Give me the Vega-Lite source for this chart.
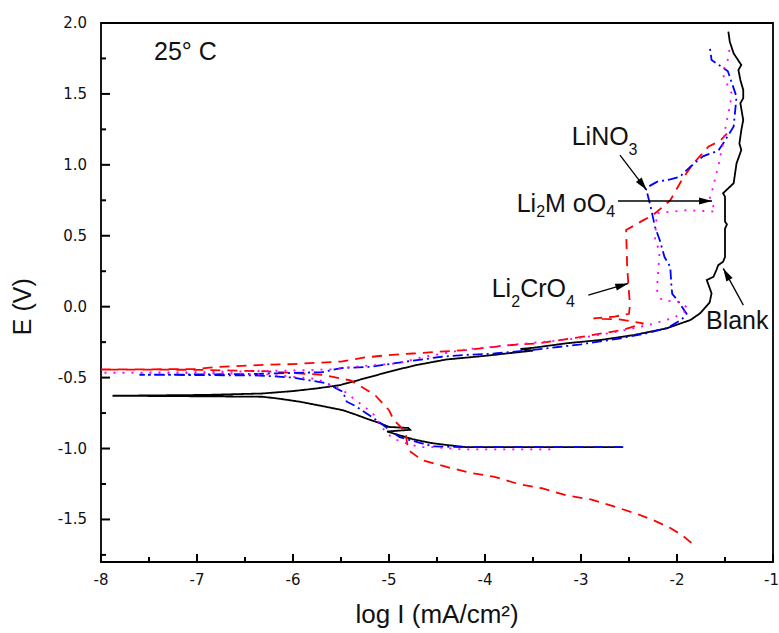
{
  "$schema": "https://vega.github.io/schema/vega-lite/v6.json",
  "width": 672,
  "height": 539,
  "autosize": "none",
  "padding": {"left": 101, "top": 23, "right": 6, "bottom": 71},
  "background": "white",
  "config": {
    "font": "Liberation Sans",
    "view": {"stroke": "black", "strokeWidth": 1.8}
  },
  "datasets": {
    "curves": [
      {"s":"Blank","i":1,"x":-2.57,"y":-0.99},{"s":"Blank","i":2,"x":-3.5,"y":-0.99},{"s":"Blank","i":3,"x":-4.2,"y":-0.99},{"s":"Blank","i":4,"x":-4.4,"y":-0.975},{"s":"Blank","i":5,"x":-4.57,"y":-0.96},{"s":"Blank","i":6,"x":-4.75,"y":-0.935},{"s":"Blank","i":7,"x":-4.9,"y":-0.905},{"s":"Blank","i":8,"x":-5.02,"y":-0.88},{"s":"Blank","i":9,"x":-4.78,"y":-0.868},{"s":"Blank","i":10,"x":-4.8,"y":-0.855},{"s":"Blank","i":11,"x":-5.0,"y":-0.848},{"s":"Blank","i":12,"x":-5.1,"y":-0.82},{"s":"Blank","i":13,"x":-5.23,"y":-0.79},{"s":"Blank","i":14,"x":-5.35,"y":-0.76},{"s":"Blank","i":15,"x":-5.48,"y":-0.73},{"s":"Blank","i":16,"x":-5.7,"y":-0.7},{"s":"Blank","i":17,"x":-5.93,"y":-0.67},{"s":"Blank","i":18,"x":-6.15,"y":-0.648},{"s":"Blank","i":19,"x":-6.32,"y":-0.635},{"s":"Blank","i":20,"x":-6.9,"y":-0.632},{"s":"Blank","i":21,"x":-7.88,"y":-0.628},{"s":"Blank","i":22,"x":-6.9,"y":-0.622},{"s":"Blank","i":23,"x":-6.32,"y":-0.612},{"s":"Blank","i":24,"x":-6.0,"y":-0.595},{"s":"Blank","i":25,"x":-5.75,"y":-0.576},{"s":"Blank","i":26,"x":-5.51,"y":-0.553},{"s":"Blank","i":27,"x":-5.06,"y":-0.47},{"s":"Blank","i":28,"x":-4.89,"y":-0.44},{"s":"Blank","i":29,"x":-4.71,"y":-0.411},{"s":"Blank","i":30,"x":-4.4,"y":-0.372},{"s":"Blank","i":31,"x":-4.02,"y":-0.348},{"s":"Blank","i":32,"x":-3.6,"y":-0.317},{"s":"Blank","i":33,"x":-3.5,"y":-0.31},{"s":"Blank","i":34,"x":-3.63,"y":-0.298},{"s":"Blank","i":35,"x":-3.5,"y":-0.29},{"s":"Blank","i":36,"x":-3.15,"y":-0.258},{"s":"Blank","i":37,"x":-2.8,"y":-0.235},{"s":"Blank","i":38,"x":-2.45,"y":-0.2},{"s":"Blank","i":39,"x":-2.11,"y":-0.153},{"s":"Blank","i":40,"x":-1.86,"y":-0.094},{"s":"Blank","i":41,"x":-1.76,"y":-0.047},{"s":"Blank","i":42,"x":-1.66,"y":0.03},{"s":"Blank","i":43,"x":-1.64,"y":0.094},{"s":"Blank","i":44,"x":-1.69,"y":0.188},{"s":"Blank","i":45,"x":-1.62,"y":0.211},{"s":"Blank","i":46,"x":-1.59,"y":0.258},{"s":"Blank","i":47,"x":-1.57,"y":0.293},{"s":"Blank","i":48,"x":-1.52,"y":0.317},{"s":"Blank","i":49,"x":-1.5,"y":0.35},{"s":"Blank","i":50,"x":-1.5,"y":0.55},{"s":"Blank","i":51,"x":-1.48,"y":0.58},{"s":"Blank","i":52,"x":-1.5,"y":0.6},{"s":"Blank","i":53,"x":-1.5,"y":0.775},{"s":"Blank","i":54,"x":-1.52,"y":0.8},{"s":"Blank","i":55,"x":-1.41,"y":0.87},{"s":"Blank","i":56,"x":-1.4,"y":0.916},{"s":"Blank","i":57,"x":-1.38,"y":1.01},{"s":"Blank","i":58,"x":-1.33,"y":1.105},{"s":"Blank","i":59,"x":-1.35,"y":1.15},{"s":"Blank","i":60,"x":-1.33,"y":1.245},{"s":"Blank","i":61,"x":-1.31,"y":1.316},{"s":"Blank","i":62,"x":-1.34,"y":1.434},{"s":"Blank","i":63,"x":-1.31,"y":1.47},{"s":"Blank","i":64,"x":-1.31,"y":1.528},{"s":"Blank","i":65,"x":-1.34,"y":1.598},{"s":"Blank","i":66,"x":-1.36,"y":1.669},{"s":"Blank","i":67,"x":-1.33,"y":1.704},{"s":"Blank","i":68,"x":-1.41,"y":1.786},{"s":"Blank","i":69,"x":-1.45,"y":1.868},{"s":"Blank","i":70,"x":-1.465,"y":1.939},
      {"s":"Li2CrO4","i":1,"x":-1.85,"y":-1.665},{"s":"Li2CrO4","i":2,"x":-1.95,"y":-1.61},{"s":"Li2CrO4","i":3,"x":-2.07,"y":-1.56},{"s":"Li2CrO4","i":4,"x":-2.23,"y":-1.51},{"s":"Li2CrO4","i":5,"x":-2.42,"y":-1.46},{"s":"Li2CrO4","i":6,"x":-2.65,"y":-1.41},{"s":"Li2CrO4","i":7,"x":-2.89,"y":-1.36},{"s":"Li2CrO4","i":8,"x":-3.15,"y":-1.33},{"s":"Li2CrO4","i":9,"x":-3.41,"y":-1.28},{"s":"Li2CrO4","i":10,"x":-3.65,"y":-1.25},{"s":"Li2CrO4","i":11,"x":-3.9,"y":-1.2},{"s":"Li2CrO4","i":12,"x":-4.16,"y":-1.17},{"s":"Li2CrO4","i":13,"x":-4.4,"y":-1.13},{"s":"Li2CrO4","i":14,"x":-4.66,"y":-1.08},{"s":"Li2CrO4","i":15,"x":-4.8,"y":-1.01},{"s":"Li2CrO4","i":16,"x":-4.83,"y":-0.88},{"s":"Li2CrO4","i":17,"x":-4.95,"y":-0.8},{"s":"Li2CrO4","i":18,"x":-5.0,"y":-0.73},{"s":"Li2CrO4","i":19,"x":-5.15,"y":-0.62},{"s":"Li2CrO4","i":20,"x":-5.4,"y":-0.52},{"s":"Li2CrO4","i":21,"x":-5.7,"y":-0.48},{"s":"Li2CrO4","i":22,"x":-6.3,"y":-0.455},{"s":"Li2CrO4","i":23,"x":-7.0,"y":-0.445},{"s":"Li2CrO4","i":24,"x":-8.0,"y":-0.443},{"s":"Li2CrO4","i":25,"x":-7.0,"y":-0.44},{"s":"Li2CrO4","i":26,"x":-6.8,"y":-0.425},{"s":"Li2CrO4","i":27,"x":-6.3,"y":-0.41},{"s":"Li2CrO4","i":28,"x":-6.0,"y":-0.405},{"s":"Li2CrO4","i":29,"x":-5.77,"y":-0.396},{"s":"Li2CrO4","i":30,"x":-5.5,"y":-0.387},{"s":"Li2CrO4","i":31,"x":-5.25,"y":-0.358},{"s":"Li2CrO4","i":32,"x":-5.0,"y":-0.341},{"s":"Li2CrO4","i":33,"x":-4.75,"y":-0.33},{"s":"Li2CrO4","i":34,"x":-4.5,"y":-0.318},{"s":"Li2CrO4","i":35,"x":-4.2,"y":-0.306},{"s":"Li2CrO4","i":36,"x":-3.95,"y":-0.287},{"s":"Li2CrO4","i":37,"x":-3.72,"y":-0.27},{"s":"Li2CrO4","i":38,"x":-3.45,"y":-0.259},{"s":"Li2CrO4","i":39,"x":-3.03,"y":-0.217},{"s":"Li2CrO4","i":40,"x":-2.8,"y":-0.19},{"s":"Li2CrO4","i":41,"x":-2.57,"y":-0.165},{"s":"Li2CrO4","i":42,"x":-2.35,"y":-0.118},{"s":"Li2CrO4","i":43,"x":-2.6,"y":-0.09},{"s":"Li2CrO4","i":44,"x":-2.87,"y":-0.083},{"s":"Li2CrO4","i":45,"x":-2.65,"y":-0.07},{"s":"Li2CrO4","i":46,"x":-2.5,"y":-0.05},{"s":"Li2CrO4","i":47,"x":-2.49,"y":0.01},{"s":"Li2CrO4","i":48,"x":-2.51,"y":0.19},{"s":"Li2CrO4","i":49,"x":-2.52,"y":0.3},{"s":"Li2CrO4","i":50,"x":-2.53,"y":0.54},{"s":"Li2CrO4","i":51,"x":-2.35,"y":0.61},{"s":"Li2CrO4","i":52,"x":-2.25,"y":0.646},{"s":"Li2CrO4","i":53,"x":-2.07,"y":0.75},{"s":"Li2CrO4","i":54,"x":-1.95,"y":0.893},{"s":"Li2CrO4","i":55,"x":-1.83,"y":1.01},{"s":"Li2CrO4","i":56,"x":-1.67,"y":1.13},{"s":"Li2CrO4","i":57,"x":-1.55,"y":1.17},{"s":"Li2CrO4","i":58,"x":-1.48,"y":1.22},
      {"s":"LiNO3","i":1,"x":-2.56,"y":-0.99},{"s":"LiNO3","i":2,"x":-3.5,"y":-0.99},{"s":"LiNO3","i":3,"x":-4.2,"y":-0.99},{"s":"LiNO3","i":4,"x":-4.54,"y":-0.985},{"s":"LiNO3","i":5,"x":-4.89,"y":-0.92},{"s":"LiNO3","i":6,"x":-4.99,"y":-0.87},{"s":"LiNO3","i":7,"x":-5.13,"y":-0.8},{"s":"LiNO3","i":8,"x":-5.35,"y":-0.7},{"s":"LiNO3","i":9,"x":-5.44,"y":-0.67},{"s":"LiNO3","i":10,"x":-5.48,"y":-0.6},{"s":"LiNO3","i":11,"x":-5.65,"y":-0.54},{"s":"LiNO3","i":12,"x":-6.0,"y":-0.5},{"s":"LiNO3","i":13,"x":-6.35,"y":-0.485},{"s":"LiNO3","i":14,"x":-7.0,"y":-0.482},{"s":"LiNO3","i":15,"x":-7.6,"y":-0.48},{"s":"LiNO3","i":16,"x":-7.0,"y":-0.478},{"s":"LiNO3","i":17,"x":-6.5,"y":-0.475},{"s":"LiNO3","i":18,"x":-6.0,"y":-0.467},{"s":"LiNO3","i":19,"x":-5.7,"y":-0.462},{"s":"LiNO3","i":20,"x":-5.5,"y":-0.433},{"s":"LiNO3","i":21,"x":-5.2,"y":-0.424},{"s":"LiNO3","i":22,"x":-4.85,"y":-0.39},{"s":"LiNO3","i":23,"x":-4.45,"y":-0.353},{"s":"LiNO3","i":24,"x":-4.2,"y":-0.34},{"s":"LiNO3","i":25,"x":-3.9,"y":-0.33},{"s":"LiNO3","i":26,"x":-3.5,"y":-0.305},{"s":"LiNO3","i":27,"x":-3.0,"y":-0.265},{"s":"LiNO3","i":28,"x":-2.6,"y":-0.225},{"s":"LiNO3","i":29,"x":-2.3,"y":-0.185},{"s":"LiNO3","i":30,"x":-2.1,"y":-0.15},{"s":"LiNO3","i":31,"x":-1.95,"y":-0.09},{"s":"LiNO3","i":32,"x":-1.9,"y":-0.05},{"s":"LiNO3","i":33,"x":-2.0,"y":0.05},{"s":"LiNO3","i":34,"x":-2.05,"y":0.09},{"s":"LiNO3","i":35,"x":-2.06,"y":0.164},{"s":"LiNO3","i":36,"x":-2.07,"y":0.28},{"s":"LiNO3","i":37,"x":-2.13,"y":0.35},{"s":"LiNO3","i":38,"x":-2.18,"y":0.47},{"s":"LiNO3","i":39,"x":-2.23,"y":0.564},{"s":"LiNO3","i":40,"x":-2.26,"y":0.66},{"s":"LiNO3","i":41,"x":-2.28,"y":0.72},{"s":"LiNO3","i":42,"x":-2.31,"y":0.8},{"s":"LiNO3","i":43,"x":-2.33,"y":0.834},{"s":"LiNO3","i":44,"x":-2.21,"y":0.88},{"s":"LiNO3","i":45,"x":-2.07,"y":0.898},{"s":"LiNO3","i":46,"x":-1.97,"y":0.916},{"s":"LiNO3","i":47,"x":-1.86,"y":0.987},{"s":"LiNO3","i":48,"x":-1.73,"y":1.06},{"s":"LiNO3","i":49,"x":-1.57,"y":1.1},{"s":"LiNO3","i":50,"x":-1.52,"y":1.15},{"s":"LiNO3","i":51,"x":-1.41,"y":1.27},{"s":"LiNO3","i":52,"x":-1.38,"y":1.48},{"s":"LiNO3","i":53,"x":-1.47,"y":1.66},{"s":"LiNO3","i":54,"x":-1.64,"y":1.74},{"s":"LiNO3","i":55,"x":-1.66,"y":1.84},
      {"s":"Li2MoO4","i":1,"x":-3.32,"y":-1.006},{"s":"Li2MoO4","i":2,"x":-4.23,"y":-1.006},{"s":"Li2MoO4","i":3,"x":-4.54,"y":-0.99},{"s":"Li2MoO4","i":4,"x":-4.68,"y":-0.99},{"s":"Li2MoO4","i":5,"x":-4.83,"y":-0.96},{"s":"Li2MoO4","i":6,"x":-4.96,"y":-0.93},{"s":"Li2MoO4","i":7,"x":-5.05,"y":-0.87},{"s":"Li2MoO4","i":8,"x":-5.17,"y":-0.75},{"s":"Li2MoO4","i":9,"x":-5.48,"y":-0.59},{"s":"Li2MoO4","i":10,"x":-5.75,"y":-0.51},{"s":"Li2MoO4","i":11,"x":-6.3,"y":-0.475},{"s":"Li2MoO4","i":12,"x":-7.0,"y":-0.468},{"s":"Li2MoO4","i":13,"x":-8.0,"y":-0.466},{"s":"Li2MoO4","i":14,"x":-7.0,"y":-0.462},{"s":"Li2MoO4","i":15,"x":-6.5,"y":-0.455},{"s":"Li2MoO4","i":16,"x":-6.0,"y":-0.45},{"s":"Li2MoO4","i":17,"x":-5.54,"y":-0.44},{"s":"Li2MoO4","i":18,"x":-5.4,"y":-0.425},{"s":"Li2MoO4","i":19,"x":-4.92,"y":-0.4},{"s":"Li2MoO4","i":20,"x":-4.63,"y":-0.353},{"s":"Li2MoO4","i":21,"x":-4.19,"y":-0.3},{"s":"Li2MoO4","i":22,"x":-3.57,"y":-0.259},{"s":"Li2MoO4","i":23,"x":-3.19,"y":-0.236},{"s":"Li2MoO4","i":24,"x":-2.98,"y":-0.217},{"s":"Li2MoO4","i":25,"x":-2.63,"y":-0.177},{"s":"Li2MoO4","i":26,"x":-2.3,"y":-0.13},{"s":"Li2MoO4","i":27,"x":-2.04,"y":-0.08},{"s":"Li2MoO4","i":28,"x":-1.88,"y":-0.02},{"s":"Li2MoO4","i":29,"x":-1.95,"y":0.03},{"s":"Li2MoO4","i":30,"x":-2.16,"y":0.047},{"s":"Li2MoO4","i":31,"x":-2.21,"y":0.117},{"s":"Li2MoO4","i":32,"x":-2.18,"y":0.4},{"s":"Li2MoO4","i":33,"x":-2.23,"y":0.458},{"s":"Li2MoO4","i":34,"x":-2.21,"y":0.66},{"s":"Li2MoO4","i":35,"x":-1.9,"y":0.68},{"s":"Li2MoO4","i":36,"x":-1.6,"y":0.67},{"s":"Li2MoO4","i":37,"x":-1.66,"y":0.775},{"s":"Li2MoO4","i":38,"x":-1.62,"y":0.846},{"s":"Li2MoO4","i":39,"x":-1.6,"y":0.916},{"s":"Li2MoO4","i":40,"x":-1.57,"y":0.987},{"s":"Li2MoO4","i":41,"x":-1.55,"y":1.057},{"s":"Li2MoO4","i":42,"x":-1.52,"y":1.15},{"s":"Li2MoO4","i":43,"x":-1.5,"y":1.245},{"s":"Li2MoO4","i":44,"x":-1.48,"y":1.316},{"s":"Li2MoO4","i":45,"x":-1.45,"y":1.41},{"s":"Li2MoO4","i":46,"x":-1.43,"y":1.504},{"s":"Li2MoO4","i":47,"x":-1.5,"y":1.598},{"s":"Li2MoO4","i":48,"x":-1.53,"y":1.657},{"s":"Li2MoO4","i":49,"x":-1.48,"y":1.716},{"s":"Li2MoO4","i":50,"x":-1.465,"y":1.76},{"s":"Li2MoO4","i":51,"x":-1.45,"y":1.83}
    ],
    "labels": [
      {"k":"main","t":"25° C","x":-7.448,"y":1.739},
      {"k":"main","t":"LiNO","x":-3.097,"y":1.14},
      {"k":"main","t":"Li","x":-3.67,"y":0.67},
      {"k":"main","t":"M oO","x":-3.374,"y":0.67},
      {"k":"main","t":"Li","x":-3.93,"y":0.07},
      {"k":"main","t":"CrO","x":-3.634,"y":0.07},
      {"k":"main","t":"Blank","x":-1.698,"y":-0.157},
      {"k":"sub","t":"3","x":-2.504,"y":1.069},
      {"k":"sub","t":"2","x":-3.467,"y":0.632},
      {"k":"sub","t":"4","x":-2.737,"y":0.632},
      {"k":"sub","t":"2","x":-3.727,"y":0.001},
      {"k":"sub","t":"4","x":-3.157,"y":0.001}
    ],
    "titles": [
      {"k":"x","t":"log I (mA/cm²)","x":-4.5,"y":-2.23},
      {"k":"y","t":"E (V)","x":-8.73,"y":0.0}
    ],
    "arrows": [
      {"a":"LiNO3","x":-2.594,"y":1.069,"x2":-2.316,"y2":0.822},
      {"a":"Li2MoO4","x":-2.615,"y":0.745,"x2":-1.635,"y2":0.745},
      {"a":"Li2CrO4","x":-2.924,"y":0.082,"x2":-2.507,"y2":0.164},
      {"a":"Blank","x":-1.309,"y":0.011,"x2":-1.518,"y2":0.27}
    ],
    "ticklabels": [
      {"ax":"x","v":-8,"lab":"-8"},{"ax":"x","v":-7,"lab":"-7"},{"ax":"x","v":-6,"lab":"-6"},{"ax":"x","v":-5,"lab":"-5"},{"ax":"x","v":-4,"lab":"-4"},{"ax":"x","v":-3,"lab":"-3"},{"ax":"x","v":-2,"lab":"-2"},{"ax":"x","v":-1,"lab":"-1"},
      {"ax":"y","v":-1.5,"lab":"-1.5"},{"ax":"y","v":-1.0,"lab":"-1.0"},{"ax":"y","v":-0.5,"lab":"-0.5"},{"ax":"y","v":0.0,"lab":"0.0"},{"ax":"y","v":0.5,"lab":"0.5"},{"ax":"y","v":1.0,"lab":"1.0"},{"ax":"y","v":1.5,"lab":"1.5"},{"ax":"y","v":2.0,"lab":"2.0"}
    ],
    "ticks": [
      {"ax":"x","m":"major","v":-8},{"ax":"x","m":"major","v":-7},{"ax":"x","m":"major","v":-6},{"ax":"x","m":"major","v":-5},{"ax":"x","m":"major","v":-4},{"ax":"x","m":"major","v":-3},{"ax":"x","m":"major","v":-2},{"ax":"x","m":"major","v":-1},
      {"ax":"x","m":"minor","v":-7.5},{"ax":"x","m":"minor","v":-6.5},{"ax":"x","m":"minor","v":-5.5},{"ax":"x","m":"minor","v":-4.5},{"ax":"x","m":"minor","v":-3.5},{"ax":"x","m":"minor","v":-2.5},{"ax":"x","m":"minor","v":-1.5},
      {"ax":"y","m":"major","v":-1.5},{"ax":"y","m":"major","v":-1.0},{"ax":"y","m":"major","v":-0.5},{"ax":"y","m":"major","v":0.0},{"ax":"y","m":"major","v":0.5},{"ax":"y","m":"major","v":1.0},{"ax":"y","m":"major","v":1.5},{"ax":"y","m":"major","v":2.0},
      {"ax":"y","m":"minor","v":-1.75},{"ax":"y","m":"minor","v":-1.25},{"ax":"y","m":"minor","v":-0.75},{"ax":"y","m":"minor","v":-0.25},{"ax":"y","m":"minor","v":0.25},{"ax":"y","m":"minor","v":0.75},{"ax":"y","m":"minor","v":1.25},{"ax":"y","m":"minor","v":1.75}
    ]
  },
  "layer": [
    {
      "data": {"name": "curves"},
      "mark": {"type": "line", "strokeWidth": 1.8, "strokeCap": "butt", "strokeJoin": "miter"},
      "encoding": {
        "x": {"field": "x", "type": "quantitative", "axis": null,
          "scale": {"domain": [-8, -1], "nice": false, "zero": false}},
        "y": {"field": "y", "type": "quantitative", "axis": null,
          "scale": {"domain": [-1.8, 2.0], "nice": false, "zero": false}},
        "color": {"field": "s", "type": "nominal", "legend": null,
          "scale": {"domain": ["Blank", "Li2CrO4", "LiNO3", "Li2MoO4"], "range": ["#000000", "#ff0000", "#0000ff", "#ff00ff"]}},
        "strokeDash": {"field": "s", "type": "nominal", "legend": null,
          "scale": {"domain": ["Blank", "Li2CrO4", "LiNO3", "Li2MoO4"], "range": [[1, 0], [10, 7], [10, 4, 2, 4], [2, 7]]}},
        "order": {"field": "i", "type": "quantitative"}
      }
    },
    {
      "data": {"name": "labels"},
      "transform": [{"filter": "datum.k == 'main'"}],
      "mark": {"type": "text", "align": "left", "baseline": "alphabetic", "font": "Liberation Sans", "fontSize": 25, "color": "#111"},
      "encoding": {
        "x": {"field": "x", "type": "quantitative", "axis": null},
        "y": {"field": "y", "type": "quantitative", "axis": null},
        "text": {"field": "t"}
      }
    },
    {
      "data": {"name": "labels"},
      "transform": [{"filter": "datum.k == 'sub'"}],
      "mark": {"type": "text", "align": "left", "baseline": "alphabetic", "font": "Liberation Sans", "fontSize": 16, "color": "#111"},
      "encoding": {
        "x": {"field": "x", "type": "quantitative", "axis": null},
        "y": {"field": "y", "type": "quantitative", "axis": null},
        "text": {"field": "t"}
      }
    },
    {
      "data": {"name": "titles"},
      "transform": [{"filter": "datum.k == 'x'"}],
      "mark": {"type": "text", "align": "center", "baseline": "alphabetic", "font": "Liberation Sans", "fontSize": 26, "color": "#111"},
      "encoding": {
        "x": {"field": "x", "type": "quantitative", "axis": null},
        "y": {"field": "y", "type": "quantitative", "axis": null},
        "text": {"field": "t"}
      }
    },
    {
      "data": {"name": "titles"},
      "transform": [{"filter": "datum.k == 'y'"}],
      "mark": {"type": "text", "align": "center", "baseline": "alphabetic", "font": "Liberation Sans", "fontSize": 25, "color": "#111", "angle": 270},
      "encoding": {
        "x": {"field": "x", "type": "quantitative", "axis": null},
        "y": {"field": "y", "type": "quantitative", "axis": null},
        "text": {"field": "t"}
      }
    },
    {
      "data": {"name": "ticklabels"},
      "transform": [{"filter": "datum.ax == 'x' && datum.v != -1"}],
      "mark": {"type": "text", "align": "center", "baseline": "middle", "dy": 18, "font": "DejaVu Sans", "fontSize": 15, "color": "#111"},
      "encoding": {
        "x": {"field": "v", "type": "quantitative", "axis": null},
        "y": {"datum": -1.8, "type": "quantitative", "axis": null},
        "text": {"field": "lab"}
      }
    },
    {
      "data": {"name": "ticklabels"},
      "transform": [{"filter": "datum.ax == 'x' && datum.v == -1"}],
      "mark": {"type": "text", "align": "right", "baseline": "middle", "dy": 18, "dx": 6, "font": "DejaVu Sans", "fontSize": 15, "color": "#111"},
      "encoding": {
        "x": {"field": "v", "type": "quantitative", "axis": null},
        "y": {"datum": -1.8, "type": "quantitative", "axis": null},
        "text": {"field": "lab"}
      }
    },
    {
      "data": {"name": "ticklabels"},
      "transform": [{"filter": "datum.ax == 'y'"}],
      "mark": {"type": "text", "align": "right", "baseline": "middle", "dx": -14, "font": "DejaVu Sans", "fontSize": 15, "color": "#111"},
      "encoding": {
        "y": {"field": "v", "type": "quantitative", "axis": null},
        "x": {"datum": -8, "type": "quantitative", "axis": null},
        "text": {"field": "lab"}
      }
    },
    {
      "data": {"name": "arrows"},
      "mark": {"type": "rule", "color": "black", "strokeWidth": 1.3},
      "encoding": {
        "x": {"field": "x", "type": "quantitative", "axis": null},
        "y": {"field": "y", "type": "quantitative", "axis": null},
        "x2": {"field": "x2"},
        "y2": {"field": "y2"}
      }
    },
    {
      "data": {"name": "arrows"},
      "transform": [{"filter": "datum.a == 'LiNO3'"}],
      "mark": {"type": "point", "shape": "M0,0L-2,-0.55L-2,0.55Z", "filled": true, "color": "black", "opacity": 1, "size": 169, "strokeWidth": 0, "angle": 52.7},
      "encoding": {
        "x": {"field": "x2", "type": "quantitative", "axis": null},
        "y": {"field": "y2", "type": "quantitative", "axis": null}
      }
    },
    {
      "data": {"name": "arrows"},
      "transform": [{"filter": "datum.a == 'Li2MoO4'"}],
      "mark": {"type": "point", "shape": "M0,0L-2,-0.55L-2,0.55Z", "filled": true, "color": "black", "opacity": 1, "size": 169, "strokeWidth": 0, "angle": 0},
      "encoding": {
        "x": {"field": "x2", "type": "quantitative", "axis": null},
        "y": {"field": "y2", "type": "quantitative", "axis": null}
      }
    },
    {
      "data": {"name": "arrows"},
      "transform": [{"filter": "datum.a == 'Li2CrO4'"}],
      "mark": {"type": "point", "shape": "M0,0L-2,-0.55L-2,0.55Z", "filled": true, "color": "black", "opacity": 1, "size": 169, "strokeWidth": 0, "angle": 343.7},
      "encoding": {
        "x": {"field": "x2", "type": "quantitative", "axis": null},
        "y": {"field": "y2", "type": "quantitative", "axis": null}
      }
    },
    {
      "data": {"name": "arrows"},
      "transform": [{"filter": "datum.a == 'Blank'"}],
      "mark": {"type": "point", "shape": "M0,0L-2,-0.55L-2,0.55Z", "filled": true, "color": "black", "opacity": 1, "size": 169, "strokeWidth": 0, "angle": 241.4},
      "encoding": {
        "x": {"field": "x2", "type": "quantitative", "axis": null},
        "y": {"field": "y2", "type": "quantitative", "axis": null}
      }
    },
    {
      "data": {"name": "ticks"},
      "transform": [{"filter": "datum.ax == 'x' && datum.m == 'major'"}],
      "mark": {"type": "rule", "color": "black", "strokeWidth": 2},
      "encoding": {
        "x": {"field": "v", "type": "quantitative", "axis": null},
        "y": {"datum": -1.8, "type": "quantitative", "axis": null},
        "y2": {"datum": -1.7436}
      }
    },
    {
      "data": {"name": "ticks"},
      "transform": [{"filter": "datum.ax == 'x' && datum.m == 'minor'"}],
      "mark": {"type": "rule", "color": "black", "strokeWidth": 2},
      "encoding": {
        "x": {"field": "v", "type": "quantitative", "axis": null},
        "y": {"datum": -1.8, "type": "quantitative", "axis": null},
        "y2": {"datum": -1.7647}
      }
    },
    {
      "data": {"name": "ticks"},
      "transform": [{"filter": "datum.ax == 'y' && datum.m == 'major'"}],
      "mark": {"type": "rule", "color": "black", "strokeWidth": 2},
      "encoding": {
        "y": {"field": "v", "type": "quantitative", "axis": null},
        "x": {"datum": -8, "type": "quantitative", "axis": null},
        "x2": {"datum": -7.906}
      }
    },
    {
      "data": {"name": "ticks"},
      "transform": [{"filter": "datum.ax == 'y' && datum.m == 'minor'"}],
      "mark": {"type": "rule", "color": "black", "strokeWidth": 2},
      "encoding": {
        "y": {"field": "v", "type": "quantitative", "axis": null},
        "x": {"datum": -8, "type": "quantitative", "axis": null},
        "x2": {"datum": -7.948}
      }
    }
  ]
}
